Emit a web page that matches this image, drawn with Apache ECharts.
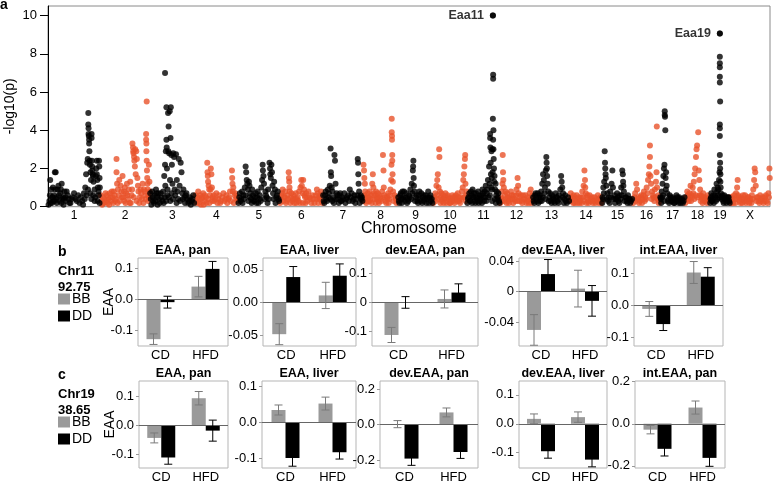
<!DOCTYPE html>
<html><head><meta charset="utf-8">
<script src="https://cdn.jsdelivr.net/npm/echarts@6/dist/echarts.min.js"></script>
<style>html,body{margin:0;padding:0;background:#fff}#c{width:775px;height:482px}</style>
</head><body><div id="c"></div>
<script>
// ---------- Panel a: Manhattan plot ----------
const chromNames = ['1','2','3','4','5','6','7','8','9','10','11','12','13','14','15','16','17','18','19','X'];
const chromLengths = [190,182,164,157,153,157,146,128,128,124,120,120,135,117,113,99,91,91,73,146]; // Mb
const yTicksTop = [0,2,4,6,8,10];

const chr1 = [[5,0.3],[8,1.4],[12,0.9],[15,0.5],[18,1.0],[22,0.6],[25,1.8],[28,1.8],[30,0.4],[35,0.9],[38,1.1],[42,0.3],[45,0.7],[50,1.2],[55,0.5],[60,0.8],[65,0.3],[72,0.6],[78,0.2],[85,0.4],[95,0.7],[105,0.3],[115,0.2],[125,0.3],[131,0.7],[136,1.0],[139,1.7],[143,2.3],[145,2.5],[147,4.9],[147,4.3],[148,4.1],[148,3.8],[149,3.7],[150,3.5],[150,3.3],[151,2.9],[152,2.4],[153,2.2],[155,1.8],[157,1.4],[159,3.8],[159,3.6],[160,2.4],[161,2.1],[162,1.9],[163,1.7],[164,1.6],[166,1.3],[170,0.9],[174,1.6],[176,2.0],[178,2.4],[178,1.7],[180,1.4],[182,1.0],[186,2.4],[187,2.1],[188,1.5],[189,1.0],[185,0.6],[170,0.3],[10,0.2],[20,0.3],[33,0.5],[48,0.2],[58,0.4],
  [2,0.1],[7,0.6],[14,0.2],[17,0.5],[24,0.3],[27,0.9],[32,0.2],[40,0.6],[47,0.9],[52,0.4],[57,0.1],[63,0.5],[68,0.8],[75,0.4],[82,0.2],[90,0.5],[100,0.4],[110,0.6],[120,0.5],[128,0.1],[134,0.4],[141,0.6],[146,0.9],[154,0.7],[158,0.4],[165,0.6],[172,0.5],[181,0.3],[184,0.8],[188,0.2]];
const chr2 = [[5,0.3],[10,0.5],[15,0.2],[20,0.7],[25,0.6],[30,0.4],[35,0.7],[40,0.3],[45,0.5],[50,0.8],[55,0.3],[60,2.5],[60,1.8],[62,1.2],[65,0.9],[68,0.6],[70,1.4],[75,1.1],[78,0.8],[82,1.6],[85,0.5],[90,1.0],[95,0.7],[98,1.2],[102,0.4],[105,0.9],[110,1.3],[115,0.6],[118,3.3],[120,3.1],[121,2.9],[122,2.8],[124,2.6],[125,2.4],[127,2.1],[128,3.0],[130,1.7],[132,2.9],[134,2.5],[136,1.5],[138,1.1],[140,0.8],[145,0.5],[150,0.7],[155,1.2],[160,0.9],[165,0.6],[168,3.8],[168,3.5],[169,3.3],[169,2.9],[170,5.5],[170,2.4],[171,1.9],[172,1.5],[173,1.2],[174,0.9],[176,0.6],[178,2.2],[180,1.3],[181,0.8],[12,0.2],[28,0.2],[48,0.2],[88,0.3],[108,0.2],
  [2,0.6],[8,0.1],[17,0.4],[23,0.3],[33,0.1],[38,0.5],[43,0.8],[53,0.6],[58,0.4],[64,0.2],[72,0.3],[80,0.5],[87,0.8],[93,0.2],[100,0.6],[112,0.2],[117,0.9],[123,0.5],[133,0.3],[143,0.2],[148,0.9],[153,0.4],[158,0.2],[163,0.8],[167,0.4],[175,0.3],[179,0.5]];
const chr3 = [[3,0.4],[8,0.8],[12,0.3],[18,0.6],[22,0.9],[26,0.5],[30,0.7],[36,0.2],[42,0.5],[48,0.8],[52,1.6],[55,7.0],[55,2.2],[56,1.1],[58,2.9],[60,5.2],[60,3.5],[61,3.1],[62,2.0],[63,0.6],[66,4.9],[67,2.9],[68,4.2],[70,2.8],[72,5.0],[73,1.4],[75,3.6],[76,5.2],[78,2.7],[80,2.2],[82,1.2],[85,2.8],[88,2.6],[90,0.9],[95,2.75],[98,1.4],[100,0.8],[105,2.5],[108,1.1],[112,2.3],[115,1.8],[118,0.7],[122,0.9],[126,0.5],[130,0.6],[136,0.4],[140,0.2],[146,0.5],[152,0.3],[158,0.6],
  [1,0.7],[5,0.1],[10,0.5],[15,0.2],[20,0.3],[24,0.7],[28,0.1],[33,0.4],[39,0.7],[45,0.3],[50,0.2],[54,0.5],[59,0.3],[64,0.9],[69,0.5],[74,0.3],[79,0.7],[84,0.4],[92,0.6],[97,0.2],[103,0.4],[110,0.3],[120,0.4],[128,0.2],[133,0.7],[143,0.3],[149,0.1],[155,0.4],[161,0.2]];
const chr4 = [[5,0.3],[10,0.5],[15,0.2],[20,0.6],[25,0.4],[30,0.7],[35,0.3],[40,0.5],[45,2.3],[46,1.8],[47,1.6],[48,1.3],[50,1.1],[52,0.9],[55,0.6],[58,2.0],[60,1.7],[62,1.0],[65,0.5],[70,0.3],[78,0.7],[85,0.4],[92,0.2],[100,0.5],[108,0.3],[115,0.6],[122,0.4],[128,0.8],[135,1.9],[136,1.5],[137,1.2],[138,0.8],[140,1.0],[145,0.6],[150,0.4],[155,0.3],
  [2,0.6],[7,0.2],[12,0.8],[17,0.4],[22,0.1],[27,0.5],[32,0.1],[37,0.6],[42,0.2],[49,0.4],[53,0.2],[57,0.9],[63,0.3],[68,0.6],[74,0.4],[82,0.2],[88,0.6],[95,0.3],[104,0.7],[112,0.4],[118,0.2],[125,0.5],[131,0.3],[142,0.2],[147,0.7],[152,0.5]];
const chr5 = [[5,0.5],[10,0.3],[15,0.8],[20,0.6],[25,1.0],[28,2.1],[30,1.8],[32,1.4],[34,1.2],[36,0.9],[40,1.3],[42,1.1],[45,0.7],[48,0.4],[52,0.9],[55,0.6],[60,0.3],[65,0.7],[70,0.5],[75,0.2],[80,0.6],[85,1.0],[88,1.4],[90,2.2],[91,1.9],[93,1.6],[95,1.2],[100,0.8],[105,0.5],[110,0.9],[115,2.3],[117,2.0],[118,1.7],[120,1.5],[122,2.2],[124,1.8],[126,1.1],[128,0.7],[132,1.3],[135,0.9],[140,0.5],[145,0.8],[150,0.3],
  [2,0.2],[7,0.7],[12,0.4],[17,0.2],[22,0.4],[27,0.6],[38,0.3],[43,0.5],[50,0.2],[57,0.3],[62,0.5],[67,0.2],[72,0.8],[78,0.4],[83,0.3],[97,0.4],[102,0.6],[108,0.2],[112,0.4],[130,0.4],[137,0.2],[142,0.6],[148,0.4]];
const chr6 = [[3,0.4],[8,0.7],[12,0.3],[18,0.5],[22,0.2],[28,0.6],[32,1.8],[33,1.5],[34,1.3],[35,1.0],[36,0.8],[40,0.5],[45,0.3],[50,0.6],[55,0.4],[60,0.2],[65,0.5],[70,0.8],[75,1.0],[78,1.4],[80,1.1],[82,0.7],[85,1.4],[88,0.9],[92,0.5],[96,0.7],[100,0.3],[108,0.5],[115,0.2],[122,0.4],[130,0.6],[135,0.9],[138,0.7],[142,0.4],[148,0.6],[152,0.3],
  [1,0.2],[5,0.6],[10,0.9],[15,0.5],[20,0.8],[25,0.3],[30,0.4],[38,0.2],[42,0.7],[48,0.4],[52,0.2],[58,0.7],[62,0.4],[68,0.3],[73,0.2],[84,0.2],[90,0.6],[94,0.2],[98,0.5],[104,0.8],[112,0.4],[118,0.6],[126,0.2],[133,0.4],[140,0.2],[145,0.5],[150,0.8],[155,0.2]];
const chr7 = [[3,0.3],[8,0.6],[12,0.4],[18,0.9],[22,0.7],[25,1.1],[28,3.05],[29,1.8],[30,1.6],[32,1.0],[35,0.8],[38,0.5],[42,2.7],[44,2.4],[46,1.2],[50,0.7],[55,0.4],[60,0.6],[65,0.3],[70,0.5],[78,0.7],[85,0.4],[92,0.6],[98,0.9],[102,0.5],[108,0.3],[115,0.6],[122,0.4],[127,2.5],[128,2.3],[129,1.7],[130,1.2],[132,0.8],[136,0.5],[140,0.4],[144,0.3],
  [1,0.6],[5,0.2],[10,0.8],[15,0.3],[20,0.5],[27,0.4],[34,0.3],[40,0.2],[48,0.4],[53,0.6],[58,0.2],[63,0.7],[68,0.3],[74,0.4],[82,0.2],[88,0.5],[95,0.3],[105,0.7],[112,0.4],[118,0.2],[125,0.6],[134,0.2],[138,0.6],[142,0.5]];
const chr8 = [[2,2.2],[4,1.9],[5,1.5],[7,1.2],[8,0.8],[10,0.5],[14,0.3],[18,0.7],[22,0.5],[26,0.3],[30,0.6],[34,1.2],[36,1.7],[38,1.0],[40,0.7],[44,0.4],[48,0.8],[52,0.5],[56,0.3],[60,0.6],[65,0.4],[70,0.8],[73,2.7],[75,1.9],[76,1.0],[78,0.6],[82,0.3],[88,0.5],[92,0.7],[96,0.4],[100,0.9],[103,1.4],[104,2.2],[105,4.6],[105,3.9],[106,3.7],[106,3.5],[107,2.7],[107,2.4],[108,1.7],[109,1.3],[110,0.8],[115,0.6],[120,0.4],[125,0.3],
  [1,0.5],[3,0.3],[6,0.6],[12,0.2],[16,0.5],[20,0.3],[24,0.8],[28,0.4],[32,0.2],[42,0.6],[46,0.2],[50,0.4],[54,0.7],[58,0.2],[63,0.5],[68,0.3],[80,0.5],[85,0.2],[90,0.4],[94,0.2],[98,0.6],[112,0.3],[118,0.5],[122,0.2]];
const chr9 = [[3,0.3],[8,0.6],[12,0.4],[16,0.8],[20,0.5],[25,0.3],[30,0.7],[35,0.4],[40,0.6],[45,0.9],[50,1.2],[54,1.9],[55,2.1],[56,2.4],[57,1.5],[58,1.1],[60,0.8],[65,0.5],[70,0.3],[75,0.6],[80,0.4],[85,0.7],[90,0.5],[95,0.3],[100,0.6],[105,0.4],[110,0.8],[115,0.5],[120,0.3],[125,0.2],
  [1,0.5],[5,0.2],[10,0.7],[14,0.2],[18,0.4],[22,0.8],[28,0.5],[33,0.2],[38,0.3],[43,0.5],[48,0.4],[52,0.7],[62,0.3],[68,0.6],[73,0.2],[78,0.8],[83,0.3],[88,0.2],[93,0.6],[98,0.4],[103,0.2],[108,0.5],[113,0.2],[118,0.6],[123,0.4]];
const chr10 = [[3,0.4],[8,0.7],[12,1.1],[15,1.4],[17,1.7],[20,1.0],[22,3.0],[23,2.6],[25,0.8],[28,0.5],[32,0.3],[36,0.6],[40,0.4],[45,0.7],[50,0.3],[55,0.5],[60,0.2],[65,0.4],[70,0.6],[75,0.3],[80,0.5],[85,0.4],[90,0.7],[95,0.3],[100,0.5],[105,0.8],[108,1.0],[110,1.4],[112,1.7],[114,2.1],[116,2.5],[117,2.7],[118,1.2],[120,0.6],
  [1,0.2],[5,0.5],[10,0.3],[14,0.6],[18,0.4],[27,0.2],[30,0.7],[34,0.4],[38,0.2],[43,0.5],[48,0.2],[53,0.6],[58,0.4],[63,0.2],[68,0.3],[73,0.5],[78,0.2],[83,0.6],[88,0.3],[93,0.5],[98,0.2],[103,0.4],[113,0.5],[119,0.3],[122,0.8]];
const chr11 = [[3,0.4],[8,0.7],[12,0.3],[16,0.6],[20,0.9],[24,0.5],[28,0.3],[32,0.7],[36,0.4],[40,0.8],[44,0.5],[48,0.3],[52,0.6],[56,0.9],[60,0.5],[64,0.8],[68,1.1],[72,0.7],[76,1.4],[80,2.1],[82,1.2],[84,3.8],[84,3.6],[85,3.1],[86,2.3],[87,1.7],[88,1.0],[89,2.9],[90,1.5],[91,0.9],[92,3.0],[93,1.8],[94,10.0],[95,6.9],[95,6.7],[94,4.6],[95,3.5],[96,4.0],[96,3.0],[97,2.5],[98,2.0],[99,1.3],[100,1.6],[102,0.9],[104,1.2],[106,0.6],[108,0.8],[112,0.5],[116,0.3],
  [1,0.2],[5,0.5],[10,0.3],[14,0.8],[18,0.2],[22,0.5],[26,0.7],[30,0.2],[34,0.5],[38,0.3],[42,0.2],[46,0.6],[50,0.4],[54,0.2],[58,0.7],[62,0.3],[66,0.5],[70,0.3],[74,0.9],[78,0.5],[83,0.6],[91,0.3],[101,0.4],[105,0.2],[110,0.4],[114,0.7],[118,0.2]];
const chr12 = [[3,0.5],[6,0.8],[9,1.2],[10,2.7],[11,1.8],[12,1.4],[14,1.0],[18,0.6],[22,0.4],[26,0.7],[30,0.3],[35,0.5],[40,0.8],[45,0.4],[50,0.6],[55,0.3],[60,0.9],[64,1.5],[66,1.1],[68,0.7],[72,0.5],[78,0.3],[84,0.6],[90,0.4],[96,0.2],[102,0.5],[108,0.7],[112,0.9],[116,0.4],
  [1,0.2],[5,0.4],[8,0.3],[16,0.3],[20,0.8],[24,0.2],[28,0.5],[33,0.2],[38,0.4],[43,0.6],[48,0.2],[53,0.4],[58,0.6],[62,0.3],[70,0.3],[75,0.6],[81,0.2],[87,0.4],[93,0.6],[99,0.3],[105,0.2],[110,0.4],[114,0.2],[118,0.6]];
const chr13 = [[3,0.3],[8,0.6],[12,0.4],[18,0.7],[22,0.5],[26,0.3],[30,0.8],[34,1.2],[37,1.7],[40,1.4],[44,1.0],[47,1.9],[49,2.6],[50,2.3],[51,2.0],[52,1.6],[54,1.2],[56,0.8],[60,0.5],[65,0.3],[70,0.6],[75,0.4],[80,0.2],[85,0.5],[90,0.3],[95,0.6],[100,0.9],[103,1.6],[105,1.3],[107,1.0],[110,0.7],[115,0.4],[120,0.3],[128,0.5],
  [1,0.5],[5,0.2],[10,0.7],[15,0.3],[20,0.2],[24,0.6],[28,0.5],[32,0.3],[36,0.5],[42,0.7],[46,0.4],[58,0.3],[63,0.7],[68,0.2],[73,0.5],[78,0.3],[83,0.7],[88,0.5],[93,0.2],[98,0.4],[108,0.5],[113,0.2],[118,0.6],[124,0.2],[132,0.3]];
const chr14 = [[3,0.7],[8,0.4],[12,0.2],[16,0.5],[20,0.3],[25,0.6],[30,0.4],[35,0.2],[40,0.5],[45,0.8],[50,1.1],[53,1.9],[55,1.4],[56,1.0],[58,0.7],[62,0.5],[66,0.3],[72,0.6],[78,0.4],[84,0.2],[90,0.5],[96,0.3],[102,0.6],[108,0.4],[114,0.2],
  [1,0.3],[5,0.5],[10,0.4],[14,0.6],[18,0.2],[22,0.4],[27,0.2],[33,0.5],[38,0.3],[43,0.2],[48,0.5],[52,0.3],[60,0.2],[64,0.6],[69,0.2],[75,0.3],[81,0.5],[87,0.3],[93,0.2],[99,0.4],[105,0.2],[111,0.5],[116,0.3]];
const chr15 = [[2,0.5],[5,1.0],[8,1.3],[10,2.9],[11,2.3],[12,2.0],[13,1.7],[14,1.5],[16,1.1],[20,0.7],[25,0.5],[30,0.8],[35,1.2],[38,1.9],[40,1.0],[45,0.6],[50,0.4],[55,0.7],[60,0.3],[65,0.6],[70,1.0],[74,1.9],[76,1.7],[77,1.3],[78,1.1],[80,0.8],[85,0.5],[90,0.3],[95,0.6],[100,0.4],[106,0.3],
  [1,0.2],[4,0.4],[7,0.7],[18,0.4],[22,0.3],[28,0.2],[33,0.5],[42,0.4],[48,0.2],[53,0.4],[58,0.5],[63,0.2],[68,0.4],[72,0.6],[82,0.3],[88,0.5],[93,0.2],[98,0.4],[103,0.2],[110,0.4]];
const chr16 = [[3,0.4],[8,0.7],[12,1.2],[15,0.9],[20,0.5],[25,0.3],[30,0.6],[35,0.4],[40,0.8],[45,0.5],[50,1.0],[55,1.4],[58,1.7],[60,2.1],[62,3.2],[62,2.6],[64,1.6],[66,1.2],[70,0.8],[75,0.5],[80,0.9],[84,1.3],[86,1.8],[87,4.2],[88,1.0],[92,0.6],[96,0.3],
  [1,0.2],[5,0.5],[10,0.3],[18,0.4],[22,0.2],[28,0.5],[33,0.2],[38,0.6],[43,0.3],[48,0.4],[53,0.7],[68,0.4],[73,0.6],[78,0.3],[82,0.5],[90,0.4],[94,0.2],[98,0.5]];
const chr17 = [[3,0.4],[6,0.8],[9,1.2],[12,1.6],[14,2.0],[16,2.2],[17,5.0],[17,4.8],[18,4.7],[19,4.0],[20,1.5],[22,1.8],[24,1.1],[26,0.7],[30,0.4],[35,0.6],[40,0.3],[45,0.5],[50,0.2],[55,0.4],[60,0.6],[65,0.3],[70,0.5],[75,0.2],[80,0.4],[86,0.3],
  [1,0.5],[4,0.2],[8,0.5],[11,0.6],[15,0.3],[21,0.9],[28,0.3],[33,0.2],[38,0.5],[43,0.3],[48,0.4],[53,0.2],[58,0.3],[63,0.5],[68,0.2],[73,0.4],[78,0.3],[83,0.2],[89,0.5]];
const chr18 = [[3,0.5],[8,0.8],[12,0.4],[16,0.7],[20,1.1],[24,0.6],[28,1.0],[32,1.3],[35,1.7],[37,2.0],[40,2.6],[42,3.0],[44,3.2],[48,3.9],[50,1.9],[52,1.4],[55,0.9],[58,0.6],[62,0.4],[66,0.7],[70,0.3],[75,0.5],[80,0.2],[85,0.4],
  [1,0.2],[5,0.4],[10,0.6],[14,0.3],[18,0.5],[22,0.3],[26,0.5],[30,0.7],[34,0.4],[39,0.6],[45,0.5],[53,0.6],[57,0.3],[60,0.5],[64,0.2],[68,0.5],[73,0.3],[78,0.4],[83,0.6],[88,0.3]];
const chr19 = [[2,0.4],[5,0.7],[8,0.3],[12,0.6],[16,0.9],[20,0.5],[24,1.2],[26,0.8],[28,1.0],[30,0.6],[33,1.4],[35,1.8],[36,9.06],[36,7.85],[36,7.5],[36,7.3],[36,6.8],[36,6.5],[37,5.5],[36,4.3],[36,4.1],[36,3.7],[36,2.7],[37,2.3],[37,2.0],[38,1.7],[38,1.3],[39,1.0],[40,0.7],[44,0.5],[48,0.3],[52,0.6],[56,0.4],[60,0.2],[65,0.5],[70,0.3],
  [1,0.2],[4,0.5],[7,0.3],[10,0.4],[14,0.2],[18,0.6],[22,0.3],[27,0.4],[31,0.9],[34,0.5],[42,0.4],[46,0.6],[50,0.2],[54,0.4],[58,0.5],[63,0.3],[68,0.5],[72,0.2]];
const chrX = [[3,0.3],[8,0.5],[12,0.2],[18,0.4],[22,0.7],[26,1.0],[28,1.4],[30,0.6],[35,0.3],[40,0.5],[45,0.2],[50,0.4],[55,0.6],[60,0.3],[65,0.5],[70,0.2],[75,0.4],[80,0.6],[85,0.9],[88,1.4],[90,2.0],[92,1.8],[94,1.1],[98,0.5],[104,0.3],[110,0.6],[116,0.4],[122,0.2],[128,0.5],[134,0.3],[140,0.7],[144,2.0],[145,1.5],
  [1,0.5],[5,0.2],[10,0.4],[15,0.6],[20,0.2],[24,0.4],[33,0.5],[38,0.2],[43,0.4],[48,0.6],[53,0.3],[58,0.2],[63,0.4],[68,0.5],[73,0.3],[78,0.2],[83,0.4],[96,0.3],[101,0.5],[107,0.2],[113,0.3],[119,0.5],[125,0.3],[131,0.6],[137,0.2],[142,0.5]];
const chromData = [chr1,chr2,chr3,chr4,chr5,chr6,chr7,chr8,chr9,chr10,chr11,chr12,chr13,chr14,chr15,chr16,chr17,chr18,chr19,chrX];
const peakLabels = [{chrom:'11', pos:94, value:10.0, name:'Eaa11'},{chrom:'19', pos:36, value:9.06, name:'Eaa19'}];

// ---------- Panels b and c: bar charts ----------
const groups = ['CD','HFD'];
const genotypes = ['BB','DD'];

const titlesB = ['EAA, pan','EAA, liver','dev.EAA, pan','dev.EAA, liver','int.EAA, liver'];
const bbMeanB = [[-0.129,0.040],[-0.048,0.011],[-0.112,0.012],[-0.050,0.004],[-0.011,0.102]];
const bbErrB  = [[0.017,0.033],[0.016,0.020],[0.026,0.031],[0.020,0.024],[0.023,0.034]];
const ddMeanB = [[-0.010,0.097],[0.039,0.041],[0.0,0.034],[0.023,-0.012],[-0.058,0.089]];
const ddErrB  = [[0.019,0.024],[0.016,0.018],[0.020,0.030],[0.019,0.020],[0.020,0.028]];
const rangeB  = [[-0.151,0.132],[-0.066,0.068],[-0.150,0.153],[-0.071,0.044],[-0.126,0.147]];
const tickValsB = [[-0.1,0,0.1],[-0.05,0,0.05],[-0.1,0,0.1],[-0.04,0,0.04],[-0.1,0,0.1]];
const tickLabsB = [['-0.1','0.0','0.1'],['-0.05','0.00','0.05'],['-0.1','0','0.1'],['-0.04','0','0.04'],['-0.1','0.0','0.1']];

const titlesC = ['EAA, pan','EAA, liver','dev.EAA, pan','dev.EAA, liver','int.EAA, pan'];
const bbMeanC = [[-0.043,0.093],[0.034,0.052],[0.002,0.068],[0.017,0.023],[-0.028,0.077]];
const bbErrC  = [[0.017,0.023],[0.014,0.018],[0.020,0.025],[0.017,0.018],[0.020,0.031]];
const ddMeanC = [[-0.110,-0.018],[-0.100,-0.084],[-0.192,-0.155],[-0.095,-0.124],[-0.119,-0.162]];
const ddErrC  = [[0.023,0.036],[0.023,0.019],[0.038,0.036],[0.024,0.025],[0.034,0.040]];
const rangeC  = [[-0.146,0.152],[-0.128,0.115],[-0.245,0.245],[-0.153,0.148],[-0.210,0.203]];
const tickValsC = [[-0.1,0,0.1],[-0.1,0,0.1],[-0.2,0,0.2],[-0.1,0,0.1],[-0.2,0,0.2]];
const tickLabsC = [['-0.1','0.0','0.1'],['-0.1','0.0','0.1'],['-0.2','0.0','0.2'],['-0.1','0.0','0.1'],['-0.2','0.0','0.2']];

const rowInfo = [
  {letter:'b', chr:'Chr11', pos:'92.75'},
  {letter:'c', chr:'Chr19', pos:'38.65'}
];

// ---------- layout (pixels) ----------
const FONT = '"Liberation Sans", Arial, Helvetica, sans-serif';
const ORANGE = '#e8532b';
const GRAY = '#9a9a9a';
const genoColors = [GRAY, '#000'];
const BAR_W = 14;
const panelXB = [[138,228],[263,356],[372,478],[519,607],[634,723]];
const panelXC = [[139,228],[262,356],[380,478],[519,607],[635,725]];
const rowY = [[258,346],[381,468]];

// ---------- build ----------
const offsets = [];
let acc = 0;
chromLengths.forEach(l => { offsets.push(acc); acc += l; });
const totalLen = acc;
const mids = chromLengths.map((l,i) => offsets[i] + l/2);

const blackPts = [], orangePts = [];
chromData.forEach((arr, i) => {
  const target = (i % 2 === 0) ? blackPts : orangePts;
  arr.forEach(p => target.push([offsets[i] + p[0], p[1]]));
});
const peakPts = peakLabels.map(p => ({value:[offsets[chromNames.indexOf(p.chrom)] + p.pos, p.value], name:p.name}));

const grids = [{left:48, top:6, width:722, height:200.7, show:true, borderColor:'#8a8a8a', borderWidth:1, outerBoundsMode:'none', containLabel:false}];
const xAxes = [{
  gridIndex:0, type:'value', min:0, max:totalLen,
  axisLine:{show:false}, axisTick:{show:false}, splitLine:{show:false},
  axisLabel:{customValues:mids, margin:3, fontSize:12, color:'#000', fontFamily:FONT,
    formatter:v => { const i = mids.findIndex(m => Math.abs(m - v) < 1e-6); return i >= 0 ? chromNames[i] : ''; }},
  name:'Chromosome', nameLocation:'middle', nameGap:14, nameMoveOverlap:false,
  nameTextStyle:{fontSize:16, color:'#000', fontFamily:FONT}
}];
const yAxes = [{
  gridIndex:0, type:'value', min:0, max:10.5,
  axisLine:{show:true, lineStyle:{color:'#000', width:1}},
  axisTick:{show:true, length:8, customValues:yTicksTop, lineStyle:{color:'#000'}},
  axisLabel:{customValues:yTicksTop, margin:11, fontSize:13, color:'#000', fontFamily:FONT},
  splitLine:{show:false},
  name:'-log10(p)', nameLocation:'middle', nameGap:31, nameMoveOverlap:false,
  nameTextStyle:{fontSize:14, color:'#000', fontFamily:FONT}
}];
const series = [
  {type:'scatter', xAxisIndex:0, yAxisIndex:0, data:orangePts, symbolSize:6, itemStyle:{color:ORANGE}, silent:true, z:2},
  {type:'scatter', xAxisIndex:0, yAxisIndex:0, data:blackPts, symbolSize:6, itemStyle:{color:'#000'}, silent:true, z:3},
  {type:'scatter', xAxisIndex:0, yAxisIndex:0, data:peakPts, symbolSize:6, itemStyle:{color:'#000'}, silent:true, z:4,
    label:{show:true, position:'left', distance:6, formatter:p => p.name, fontSize:12.5, fontWeight:'bold', color:'#000', fontFamily:FONT}}
];
const graphics = [
  {type:'text', x:0, y:-2, style:{text:'a', font:'bold 14px ' + FONT, fill:'#000'}}
];

function errRender(color) {
  return function(params, api) {
    const ci = api.value(0), m = api.value(1), e = api.value(2), side = api.value(3);
    const c = api.coord([ci, m]);
    const x = c[0] + side * BAR_W / 2;
    const yt = api.coord([ci, m + e])[1];
    const yb = api.coord([ci, m - e])[1];
    const hw = 4;
    const st = {stroke:color, lineWidth:1};
    return {type:'group', children:[
      {type:'line', shape:{x1:x, y1:yt, x2:x, y2:yb}, style:st},
      {type:'line', shape:{x1:x-hw, y1:yt, x2:x+hw, y2:yt}, style:st},
      {type:'line', shape:{x1:x-hw, y1:yb, x2:x+hw, y2:yb}, style:st}
    ]};
  };
}

function addRow(r, titles, bbM, bbE, ddM, ddE, ranges, tv, tl, panelX) {
  const [top, bottom] = rowY[r];
  for (let k = 0; k < 5; k++) {
    const gi = grids.length;
    const [l, rr] = panelX[k];
    grids.push({left:l, top:top, width:rr-l, height:bottom-top, show:true, borderColor:'#b5b5b5', borderWidth:1, outerBoundsMode:'none', containLabel:false});
    xAxes.push({gridIndex:gi, type:'category', data:groups,
      axisLine:{show:false}, axisTick:{show:false},
      axisLabel:{margin:3, fontSize:13, color:'#000', fontFamily:FONT}});
    const labs = tl[k], vals = tv[k];
    yAxes.push({gridIndex:gi, type:'value', min:ranges[k][0], max:ranges[k][1],
      axisLine:{show:false}, splitLine:{show:false},
      axisTick:{show:true, length:3, customValues:vals, lineStyle:{color:'#999'}},
      axisLabel:{customValues:vals, margin:5, fontSize:13, color:'#000', fontFamily:FONT,
        formatter:v => { const i = vals.findIndex(t => Math.abs(t - v) < 1e-9); return i >= 0 ? labs[i] : ''; }},
      name: k === 0 ? 'EAA' : '', nameLocation:'middle', nameGap:22, nameMoveOverlap:false,
      nameTextStyle:{fontSize:14, color:'#000', fontFamily:FONT}});
    series.push({type:'bar', name:genotypes[0], xAxisIndex:gi, yAxisIndex:gi, data:bbM[k], barWidth:BAR_W, barGap:'0%',
      itemStyle:{color:genoColors[0]}, silent:true,
      markLine:{silent:true, symbol:'none', label:{show:false}, lineStyle:{color:'#666', type:'solid', width:1}, data:[{yAxis:0}]}});
    series.push({type:'bar', name:genotypes[1], xAxisIndex:gi, yAxisIndex:gi, data:ddM[k], barWidth:BAR_W, barGap:'0%',
      itemStyle:{color:genoColors[1]}, silent:true});
    series.push({type:'custom', xAxisIndex:gi, yAxisIndex:gi, silent:true, z:5,
      data:groups.map((g,j) => [j, bbM[k][j], bbE[k][j], -1]), encode:{x:0, y:1},
      renderItem:errRender('#7a7a7a')});
    series.push({type:'custom', xAxisIndex:gi, yAxisIndex:gi, silent:true, z:5,
      data:groups.map((g,j) => [j, ddM[k][j], ddE[k][j], 1]), encode:{x:0, y:1},
      renderItem:errRender('#000')});
    graphics.push({type:'text', x:(l+rr)/2, y:top-7, style:{text:titles[k], font:'bold 12.5px ' + FONT, fill:'#000', align:'center', verticalAlign:'middle'}});
  }
  const info = rowInfo[r];
  graphics.push({type:'text', x:58, y:top-6, style:{text:info.letter, font:'bold 14px ' + FONT, fill:'#000', verticalAlign:'middle'}});
  graphics.push({type:'text', x:58, y:top+13, style:{text:info.chr, font:'bold 13px ' + FONT, fill:'#000', verticalAlign:'middle'}});
  graphics.push({type:'text', x:58, y:top+29.5, style:{text:info.pos, font:'bold 13px ' + FONT, fill:'#000', verticalAlign:'middle'}});
  // legend keys
  genotypes.forEach((g, j) => {
    const ky = top + 35.5 + j * 17;
    graphics.push({type:'rect', shape:{x:58, y:ky, width:12, height:11}, style:{fill:genoColors[j]}});
    graphics.push({type:'text', x:72, y:ky + 5.5, style:{text:g, font:'14px ' + FONT, fill:'#000', verticalAlign:'middle'}});
  });
}
addRow(0, titlesB, bbMeanB, bbErrB, ddMeanB, ddErrB, rangeB, tickValsB, tickLabsB, panelXB);
addRow(1, titlesC, bbMeanC, bbErrC, ddMeanC, ddErrC, rangeC, tickValsC, tickLabsC, panelXC);

const chart = echarts.init(document.getElementById('c'), null, {renderer:'canvas'});
chart.setOption({
  animation:false,
  textStyle:{fontFamily:FONT},
  grid:grids, xAxis:xAxes, yAxis:yAxes, series:series,
  graphic:graphics
});
</script></body></html>
